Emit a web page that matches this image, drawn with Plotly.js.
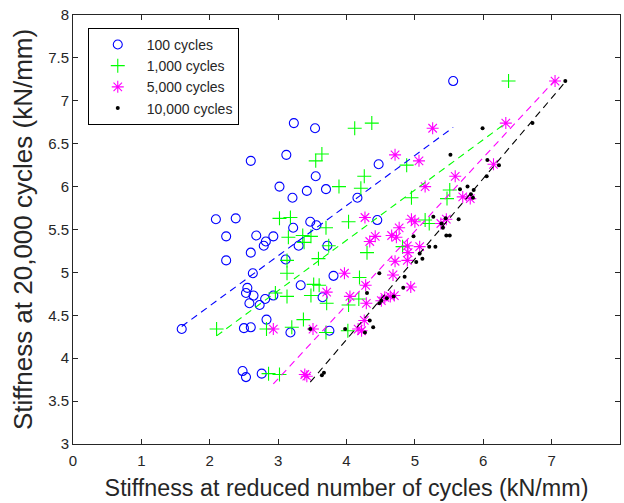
<!DOCTYPE html>
<html>
<head>
<meta charset="utf-8">
<script src="https://cdn.plot.ly/plotly-3.0.1.min.js"></script>
<style>html,body{margin:0;padding:0;background:#fff;}#chart{width:624px;height:503px;}</style>
</head>
<body>
<div id="chart"></div>
<script>
// ---- data ----
const seriesNames = ["100 cycles", "1,000 cycles", "5,000 cycles", "10,000 cycles"];

const x100 = [1.59,2.09,2.38,2.24,2.24,2.60,3.12,3.02,3.21,3.23,3.54,3.55,3.42,3.70,4.16,4.47,4.45,5.56,3.22,3.47,3.56,2.68,2.93,2.82,2.79,2.60,3.30,3.72,3.11,2.63,3.81,3.33,2.55,2.53,2.64,2.58,2.73,2.81,2.93,3.65,2.83,2.50,2.60,3.18,3.75,2.48,2.53,2.76];
const y100 = [4.34,5.62,5.63,5.42,5.14,6.30,6.37,6.00,5.87,6.74,6.68,6.12,5.95,5.97,5.87,6.26,5.61,7.23,5.52,5.59,5.55,5.43,5.42,5.36,5.31,5.23,5.31,5.31,5.15,4.99,4.96,4.85,4.82,4.76,4.73,4.64,4.62,4.69,4.73,4.71,4.45,4.35,4.36,4.30,4.32,3.85,3.78,3.82];

const x1000 = [2.10,2.83,2.86,3.02,2.96,3.13,3.13,3.13,3.02,3.18,3.15,3.36,3.48,3.38,3.74,3.70,4.03,3.89,4.21,4.26,3.55,3.64,4.12,4.37,4.30,3.59,4.19,3.52,3.60,3.48,3.71,4.03,4.18,3.37,3.20,3.70,4.02,4.88,4.95,5.51,5.47,5.15,5.21,4.82,6.37];
const y1000 = [4.34,4.34,3.82,3.81,4.76,4.72,4.99,5.14,5.63,5.64,5.41,5.43,5.42,5.35,5.31,5.52,5.59,6.00,5.98,6.12,6.30,6.38,6.68,6.74,5.23,5.16,4.94,4.86,4.85,4.73,4.64,4.62,4.69,4.45,4.36,4.30,4.32,6.25,5.87,5.96,5.86,5.61,5.57,5.30,7.23];

const x5000 = [7.05,6.33,5.26,4.71,5.06,5.59,6.15,5.15,5.70,5.81,4.95,5.00,5.38,5.46,4.77,4.66,4.73,4.27,4.42,4.34,4.89,5.07,4.90,4.89,4.71,4.68,3.97,4.94,4.28,3.71,4.05,4.29,4.51,4.64,4.70,4.56,4.26,4.17,4.22,3.51,2.93,3.39,3.42];
const y5000 = [7.23,6.74,6.68,6.37,6.30,6.12,6.26,6.00,5.88,5.86,5.62,5.59,5.57,5.62,5.52,5.43,5.41,5.64,5.42,5.36,5.31,5.30,5.23,5.14,5.13,4.97,4.99,4.83,4.85,4.77,4.72,4.64,4.67,4.72,4.73,4.71,4.44,4.34,4.32,4.34,4.34,3.81,3.79];

const x10000 = [7.20,6.72,5.99,5.52,6.06,6.23,6.05,5.77,5.66,5.86,5.82,5.85,5.27,5.45,5.64,5.39,5.41,5.46,5.51,4.98,5.21,5.30,5.07,5.11,5.02,4.85,4.83,4.48,4.30,4.59,4.69,4.48,4.51,4.34,4.39,4.27,3.98,3.47,3.64,3.67];
const y10000 = [7.23,6.74,6.68,6.37,6.31,6.25,6.12,6.00,5.97,5.96,5.91,5.87,5.65,5.63,5.62,5.57,5.52,5.43,5.43,5.42,5.30,5.30,5.22,5.16,5.12,4.95,4.82,4.99,4.76,4.70,4.72,4.64,4.67,4.44,4.36,4.30,4.34,4.34,3.80,3.83];

// least-squares trend lines, endpoints
const fit100X = [1.59, 5.56],   fit100Y = [4.37, 6.69];
const fit1000X = [2.10, 6.33],  fit1000Y = [4.26, 6.74];
const fit5000X = [2.93, 7.05],  fit5000Y = [3.70, 7.24];
const fit10000X = [3.47, 7.20], fit10000Y = [3.72, 7.22];

const xTicks = [0,1,2,3,4,5,6,7,8];
const yTicks = [3,3.5,4,4.5,5,5.5,6,6.5,7,7.5,8];

// ---- styling ----
const BLUE = "rgb(0,0,255)", GREEN = "rgb(0,255,0)", MAG = "rgb(255,0,255)", BLK = "rgb(0,0,0)";
const FONT = "Liberation Sans, Arial, Helvetica, sans-serif";
const AX = "rgb(38,38,38)";

const traces = [
  {x: x100, y: y100, name: seriesNames[0], type: "scatter", mode: "markers",
   marker: {symbol: "circle-open", size: 9, color: BLUE, line: {width: 1.1, color: BLUE}}},
  {x: x1000, y: y1000, name: seriesNames[1], type: "scatter", mode: "markers",
   marker: {symbol: "cross-thin-open", size: 10, color: GREEN, line: {width: 1.1, color: GREEN}}},
  {x: x5000, y: y5000, name: seriesNames[2], type: "scatter", mode: "markers",
   marker: {symbol: "asterisk-open", size: 10, color: MAG, line: {width: 1.1, color: MAG}}},
  {x: x10000, y: y10000, name: seriesNames[3], type: "scatter", mode: "markers",
   marker: {symbol: "circle", size: 4, color: BLK, line: {width: 0}}},
  {x: fit100X, y: fit100Y, type: "scatter", mode: "lines", showlegend: false, hoverinfo: "skip",
   line: {color: BLUE, width: 1.1, dash: "7px,5px"}},
  {x: fit1000X, y: fit1000Y, type: "scatter", mode: "lines", showlegend: false, hoverinfo: "skip",
   line: {color: GREEN, width: 1.1, dash: "7px,5px"}},
  {x: fit5000X, y: fit5000Y, type: "scatter", mode: "lines", showlegend: false, hoverinfo: "skip",
   line: {color: MAG, width: 1.1, dash: "7px,5px"}},
  {x: fit10000X, y: fit10000Y, type: "scatter", mode: "lines", showlegend: false, hoverinfo: "skip",
   line: {color: BLK, width: 1.1, dash: "7px,5px"}}
];

const axisCommon = {
  showgrid: false, zeroline: false, showline: true, linecolor: AX, linewidth: 1,
  mirror: "allticks", ticks: "inside", ticklen: 5, tickwidth: 1, tickcolor: AX,
  tickfont: {family: FONT, size: 15, color: AX}
};

const layout = {
  width: 624, height: 503,
  margin: {l: 73, r: 4, t: 15, b: 59, pad: 0},
  paper_bgcolor: "#fff", plot_bgcolor: "#fff",
  font: {family: FONT, color: AX},
  showlegend: true,
  legend: {
    x: 0.027, y: 0.97, xanchor: "left", yanchor: "top",
    bordercolor: "#000", borderwidth: 1, bgcolor: "#fff",
    font: {family: FONT, size: 14, color: AX},
    itemwidth: 48, tracegroupgap: 0
  },
  xaxis: Object.assign({}, axisCommon, {
    range: [0, 8], tickvals: xTicks, ticktext: xTicks.map(String), ticklabelstandoff: 3,
    title: {text: "Stiffness at reduced number of cycles (kN/mm)", font: {family: FONT, size: 23.3, color: AX}, standoff: 11}
  }),
  yaxis: Object.assign({}, axisCommon, {
    range: [3, 8], tickvals: yTicks, ticktext: yTicks.map(String),
    title: {text: "Stiffness at 20,000 cycles (kN/mm)", font: {family: FONT, size: 26, color: AX}, standoff: 8}
  })
};

Plotly.newPlot("chart", traces, layout, {displayModeBar: false, staticPlot: true});
</script>
</body>
</html>
